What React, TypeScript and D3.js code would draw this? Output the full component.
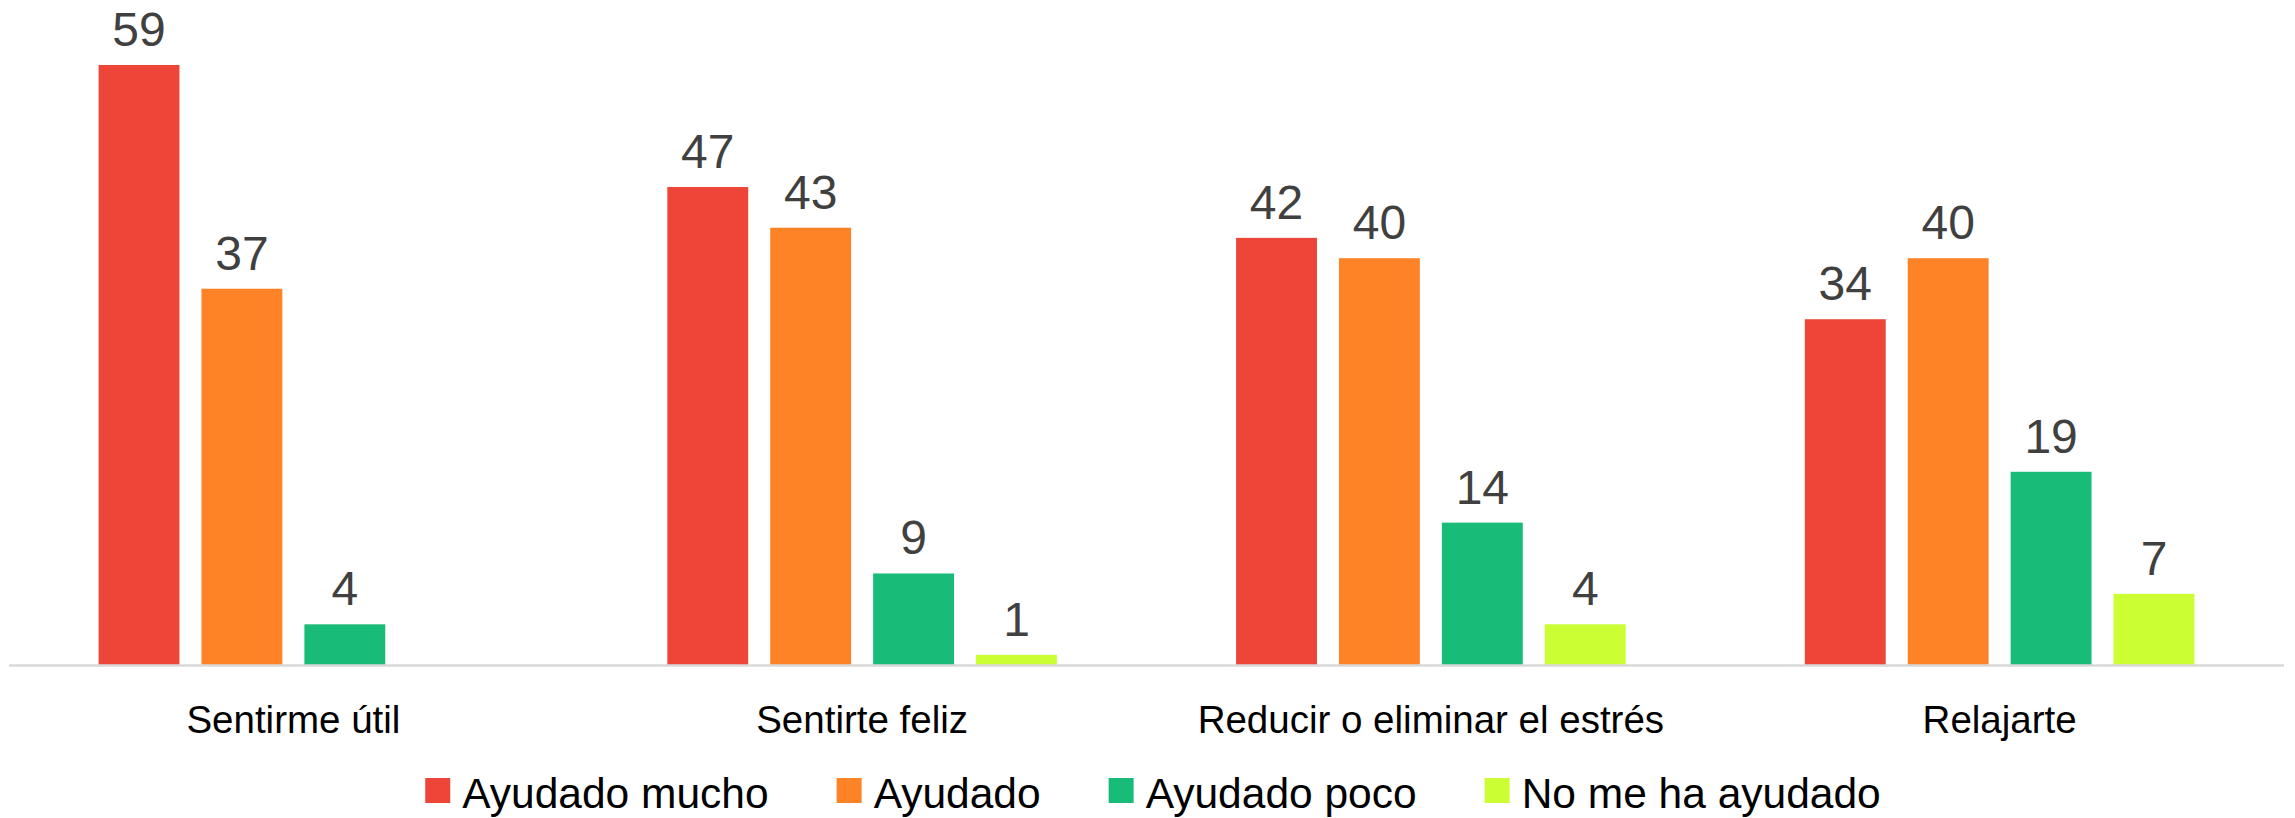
import * as d3 from "d3";
import React, { useRef, useEffect } from "react";

const categories = ["Sentirme útil", "Sentirte feliz", "Reducir o eliminar el estrés", "Relajarte"];
const seriesNames = ["Ayudado mucho", "Ayudado", "Ayudado poco", "No me ha ayudado"];
const seriesColors = ["#EE4539", "#FE8327", "#18BC78", "#CCFF33"];

const ayudadoMucho = [59, 47, 42, 34];
const ayudado = [37, 43, 40, 40];
const ayudadoPoco = [4, 9, 14, 19];
const noMeHaAyudado = [null, 1, 4, 7];

const seriesValues = [ayudadoMucho, ayudado, ayudadoPoco, noMeHaAyudado];

const App = () => {
  const svgRef = useRef<SVGSVGElement>(null);
  const width = 2295;
  const height = 818;

  useEffect(() => {
    const svg = d3.select(svgRef.current);
    svg.selectAll("*").remove();

    const baseline = 665;
    const font = "'Liberation Sans', Arial, sans-serif";

    const x0 = d3.scaleBand<string>()
      .domain(categories)
      .range([9, 2284])
      .paddingInner(0.315)
      .paddingOuter(0.1575);

    const x1 = d3.scaleBand<string>()
      .domain(seriesNames)
      .range([0, x0.bandwidth()])
      .paddingInner(0.214);

    const y = d3.scaleLinear()
      .domain([0, 60])
      .range([baseline, baseline - 60 * 10.17]);

    const rows = categories.map((c, ci) =>
      seriesNames.map((s, si) => ({ cat: c, series: s, color: seriesColors[si], value: seriesValues[si][ci] }))
    );

    const groups = svg.append("g")
      .selectAll("g")
      .data(rows)
      .enter()
      .append("g")
      .attr("transform", (d) => `translate(${x0(d[0].cat)},0)`);

    const cells = groups.selectAll("g")
      .data((d) => d.filter((e) => e.value != null))
      .enter()
      .append("g");

    cells.append("rect")
      .attr("x", (d) => x1(d.series)!)
      .attr("y", (d) => y(d.value!))
      .attr("width", x1.bandwidth())
      .attr("height", (d) => baseline - y(d.value!))
      .attr("fill", (d) => d.color);

    cells.append("text")
      .attr("x", (d) => x1(d.series)! + x1.bandwidth() / 2)
      .attr("y", (d) => y(d.value!) - 19)
      .attr("text-anchor", "middle")
      .attr("font-family", font)
      .attr("font-size", 48)
      .attr("fill", "#404040")
      .text((d) => d.value!);

    // axis line
    svg.append("line")
      .attr("x1", 9)
      .attr("x2", 2284)
      .attr("y1", baseline + 0.5)
      .attr("y2", baseline + 0.5)
      .attr("stroke", "#d9d9d9")
      .attr("stroke-width", 2.5);

    // category labels
    svg.append("g")
      .selectAll("text")
      .data(categories)
      .enter()
      .append("text")
      .attr("x", (d) => x0(d)! + x0.bandwidth() / 2)
      .attr("y", 733)
      .attr("text-anchor", "middle")
      .attr("font-family", font)
      .attr("font-size", 38.5)
      .attr("fill", "#000")
      .text((d) => d);

    // legend
    const legend = svg.append("g");
    let cursor = 0;
    seriesNames.forEach((name, i) => {
      const item = legend.append("g").attr("transform", `translate(${cursor},0)`);
      item.append("rect")
        .attr("x", 0)
        .attr("y", 778)
        .attr("width", 25)
        .attr("height", 25)
        .attr("fill", seriesColors[i]);
      const t = item.append("text")
        .attr("x", 37)
        .attr("y", 808)
        .attr("font-family", font)
        .attr("font-size", 42.5)
        .attr("fill", "#000")
        .text(name);
      const w = (t.node() as SVGTextElement).getComputedTextLength();
      cursor += 37 + w + 68;
    });
    const total = cursor - 68;
    legend.attr("transform", `translate(${1153 - total / 2},0)`);
  }, []);

  return (
    <svg
      ref={svgRef}
      width={width}
      height={height}
      style={{ position: "absolute", left: 0, top: 0, background: "#fff" }}
    />
  );
};

export default App;
